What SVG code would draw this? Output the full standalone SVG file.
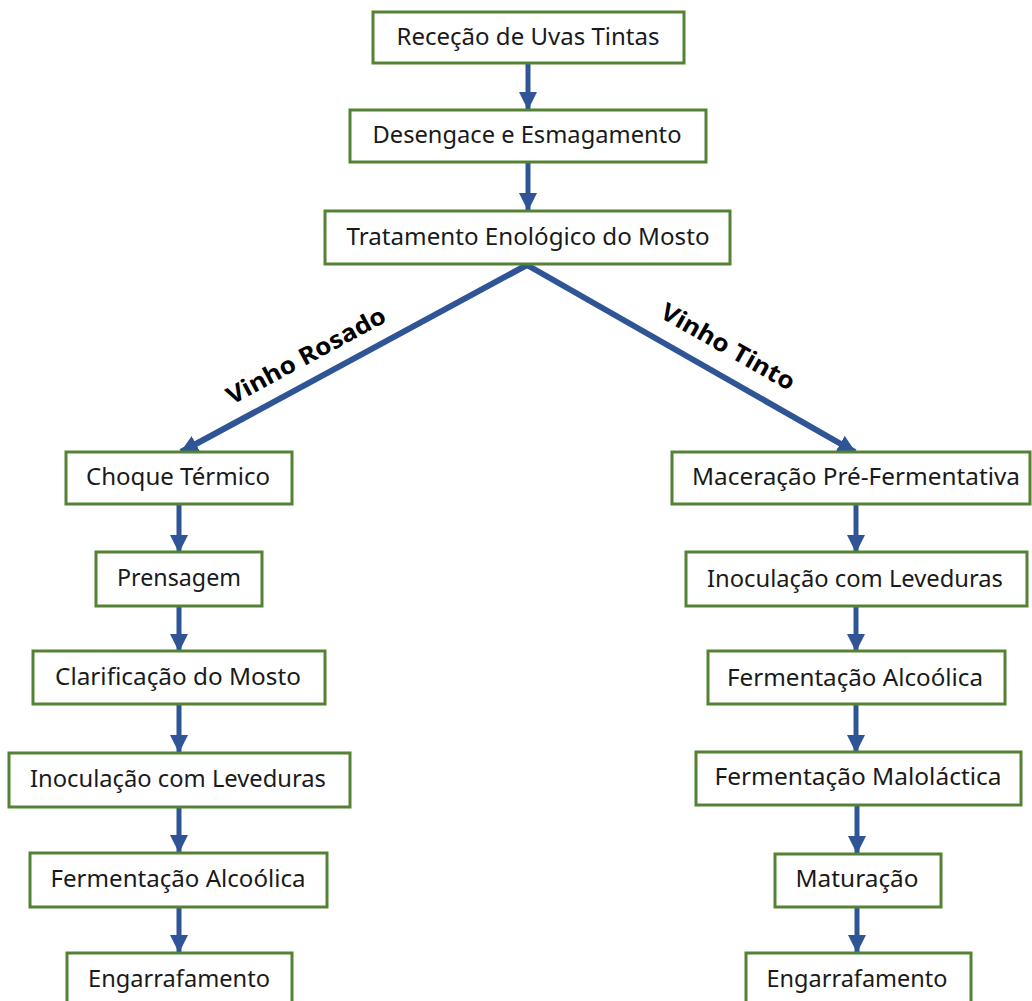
<svg xmlns="http://www.w3.org/2000/svg" width="1032" height="1001" viewBox="0 0 1032 1001">
<style>
.box{fill:#fff;stroke:#548235;stroke-width:3}
.t{font-family:"Noto Sans","Open Sans",sans-serif;font-size:24px;fill:#1a1a1a;text-anchor:middle}
.c{stroke:#2F5597;stroke-width:5;fill:none}
.d{stroke:#2F5597;stroke-width:6;fill:none}
.lbl{font-family:"Noto Sans","Open Sans",sans-serif;font-size:24px;font-weight:bold;fill:#000;text-anchor:middle}
</style>
<defs>
<marker id="ah" viewBox="0 0 18 18" markerWidth="18" markerHeight="18" refX="17" refY="9" orient="auto" markerUnits="userSpaceOnUse">
<path d="M0,0 L18,9 L0,18 z" fill="#2F5597"/>
</marker>
</defs>
<rect width="1032" height="1001" fill="#fff"/>
<g id="connectors">
<line class="c" x1="528" y1="64" x2="528" y2="109" marker-end="url(#ah)"/>
<line class="c" x1="528" y1="163" x2="528" y2="210" marker-end="url(#ah)"/>
<line class="d" x1="527" y1="265" x2="181" y2="452" marker-end="url(#ah)"/>
<line class="d" x1="527" y1="265" x2="855" y2="452" marker-end="url(#ah)"/>
<line class="c" x1="179" y1="504" x2="179" y2="552" marker-end="url(#ah)"/>
<line class="c" x1="179" y1="606" x2="179" y2="651" marker-end="url(#ah)"/>
<line class="c" x1="179" y1="705" x2="179" y2="752" marker-end="url(#ah)"/>
<line class="c" x1="179" y1="807" x2="179" y2="852" marker-end="url(#ah)"/>
<line class="c" x1="179" y1="908" x2="179" y2="952" marker-end="url(#ah)"/>
<line class="c" x1="856" y1="504" x2="856" y2="552" marker-end="url(#ah)"/>
<line class="c" x1="856" y1="606" x2="856" y2="651" marker-end="url(#ah)"/>
<line class="c" x1="856" y1="705" x2="856" y2="752" marker-end="url(#ah)"/>
<line class="c" x1="857" y1="806" x2="857" y2="853" marker-end="url(#ah)"/>
<line class="c" x1="857" y1="908" x2="857" y2="952" marker-end="url(#ah)"/>
<text class="lbl" transform="translate(310,363) rotate(-28.3)" textLength="177" lengthAdjust="spacingAndGlyphs">Vinho Rosado</text>
<text class="lbl" transform="translate(724,354) rotate(29.7)" textLength="150" lengthAdjust="spacingAndGlyphs">Vinho Tinto</text>
</g>
<g id="n1"><rect class="box" x="373" y="12" width="311" height="51"/><text class="t" x="528" y="45" textLength="263" lengthAdjust="spacingAndGlyphs">Receção de Uvas Tintas</text></g>
<g id="n2"><rect class="box" x="350" y="110" width="356" height="52"/><text class="t" x="527" y="143" textLength="309" lengthAdjust="spacingAndGlyphs">Desengace e Esmagamento</text></g>
<g id="n3"><rect class="box" x="325" y="211" width="405" height="53"/><text class="t" x="528" y="245" textLength="363" lengthAdjust="spacingAndGlyphs">Tratamento Enológico do Mosto</text></g>
<g id="r1"><rect class="box" x="66" y="452" width="226" height="52"/><text class="t" x="178" y="485" textLength="184" lengthAdjust="spacingAndGlyphs">Choque Térmico</text></g>
<g id="r2"><rect class="box" x="96" y="552" width="166" height="54"/><text class="t" x="179" y="586" textLength="124" lengthAdjust="spacingAndGlyphs">Prensagem</text></g>
<g id="r3"><rect class="box" x="33" y="651" width="292" height="53"/><text class="t" x="178" y="685" textLength="246" lengthAdjust="spacingAndGlyphs">Clarificação do Mosto</text></g>
<g id="r4"><rect class="box" x="9" y="753" width="341" height="54"/><text class="t" x="178" y="787" textLength="296" lengthAdjust="spacingAndGlyphs">Inoculação com Leveduras</text></g>
<g id="r5"><rect class="box" x="30" y="853" width="297" height="54"/><text class="t" x="178" y="887" textLength="255" lengthAdjust="spacingAndGlyphs">Fermentação Alcoólica</text></g>
<g id="r6"><rect class="box" x="67" y="953" width="225" height="54"/><text class="t" x="179" y="987" textLength="182" lengthAdjust="spacingAndGlyphs">Engarrafamento</text></g>
<g id="t1"><rect class="box" x="672" y="452" width="358" height="52"/><text class="t" x="856" y="485" textLength="328" lengthAdjust="spacingAndGlyphs">Maceração Pré-Fermentativa</text></g>
<g id="t2"><rect class="box" x="686" y="552" width="341" height="54"/><text class="t" x="855" y="587" textLength="296" lengthAdjust="spacingAndGlyphs">Inoculação com Leveduras</text></g>
<g id="t3"><rect class="box" x="708" y="651" width="297" height="53"/><text class="t" x="855" y="686" textLength="256" lengthAdjust="spacingAndGlyphs">Fermentação Alcoólica</text></g>
<g id="t4"><rect class="box" x="696" y="752" width="325" height="53"/><text class="t" x="858" y="785" textLength="287" lengthAdjust="spacingAndGlyphs">Fermentação Maloláctica</text></g>
<g id="t5"><rect class="box" x="775" y="854" width="166" height="53"/><text class="t" x="857" y="887" textLength="123" lengthAdjust="spacingAndGlyphs">Maturação</text></g>
<g id="t6"><rect class="box" x="746" y="953" width="225" height="54"/><text class="t" x="857" y="987" textLength="181" lengthAdjust="spacingAndGlyphs">Engarrafamento</text></g>
</svg>
